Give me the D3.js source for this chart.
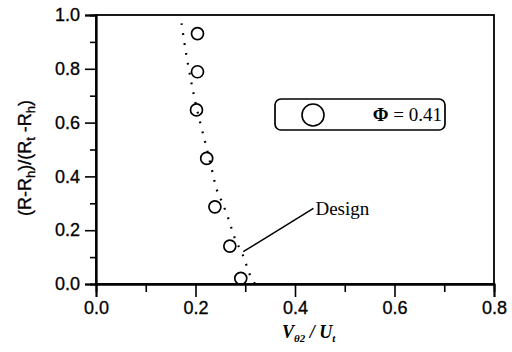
<!DOCTYPE html>
<html><head><meta charset="utf-8">
<script src="https://cdn.jsdelivr.net/npm/d3@7"></script>
<style>body{margin:0;background:#fff}svg{display:block}</style>
</head><body>
<script>
// Measured data (V_theta2/U_t, normalized radius)
const measX = [0.204, 0.204, 0.202, 0.2225, 0.239, 0.269, 0.291];
const measY = [0.931, 0.789, 0.647, 0.467, 0.287, 0.141, 0.021];
// Design curve
const designX = [0.172, 0.181, 0.192, 0.204, 0.220, 0.233, 0.243, 0.253, 0.266, 0.279, 0.295, 0.311, 0.320];
const designY = [0.969, 0.858, 0.746, 0.641, 0.523, 0.424, 0.349, 0.306, 0.244, 0.170, 0.108, 0.027, 0.0];
// Tick values
const xTicks = [0.0, 0.2, 0.4, 0.6, 0.8];
const xMinor = [0.1, 0.3, 0.5, 0.7];
const yTicks = [0.0, 0.2, 0.4, 0.6, 0.8, 1.0];
const yMinor = [0.1, 0.3, 0.5, 0.7, 0.9];
// Annotation
const annoLineX = [0.296, 0.437];
const annoLineY = [0.120, 0.281];
const annoText = "Design";
const legendLabel = "\u03A6 = 0.41";

const W = 512, H = 352;
const svg = d3.select("body").append("svg").attr("width", W).attr("height", H);
const x = d3.scaleLinear().domain([0, 0.8]).range([96, 494]);
const y = d3.scaleLinear().domain([0, 1]).range([284, 15]);
const sans = "'Liberation Sans', Arial, sans-serif";
const serif = "'Liberation Serif', 'Times New Roman', serif";

// frame
svg.append("rect").attr("x", x(0)).attr("y", y(1)).attr("width", x(0.8) - x(0)).attr("height", y(0) - y(1))
  .attr("fill", "none").attr("stroke", "#000").attr("stroke-width", 1.8);

// x axis
svg.append("g").attr("transform", `translate(0,${y(0)})`)
  .call(d3.axisBottom(x).tickValues(xTicks).tickSize(13).tickPadding(4).tickFormat(d3.format(".1f")));
svg.append("g").attr("transform", `translate(0,${y(0)})`)
  .call(d3.axisBottom(x).tickValues(xMinor).tickSize(8).tickFormat(""));
// y axis
svg.append("g").attr("transform", `translate(${x(0)},0)`)
  .call(d3.axisLeft(y).tickValues(yTicks).tickSize(11).tickPadding(5).tickFormat(d3.format(".1f")));
svg.append("g").attr("transform", `translate(${x(0)},0)`)
  .call(d3.axisLeft(y).tickValues(yMinor).tickSize(6).tickFormat(""));
svg.selectAll(".domain").attr("stroke", "#000").attr("stroke-width", 1.8);
svg.selectAll(".tick line").attr("stroke", "#000").attr("stroke-width", 1.6);
svg.selectAll(".tick text").attr("font-family", sans).attr("font-size", 18).attr("fill", "#000")
  .attr("stroke", "#000").attr("stroke-width", 0.3);

// design dotted curve
const dpts = designX.map((d, i) => [d, designY[i]]);
svg.append("path").datum(dpts)
  .attr("d", d3.line().x(d => x(d[0])).y(d => y(d[1])).curve(d3.curveCatmullRom))
  .attr("fill", "none").attr("stroke", "#000").attr("stroke-width", 2.2)
  .attr("stroke-dasharray", "1.8,8.2");

// measured circles
svg.selectAll("circle.m").data(measX.map((d, i) => [d, measY[i]])).enter().append("circle")
  .attr("cx", d => x(d[0])).attr("cy", d => y(d[1])).attr("r", 6)
  .attr("fill", "none").attr("stroke", "#000").attr("stroke-width", 1.7);

// annotation
svg.append("line").attr("x1", x(annoLineX[0])).attr("y1", y(annoLineY[0]))
  .attr("x2", x(annoLineX[1])).attr("y2", y(annoLineY[1]))
  .attr("stroke", "#000").attr("stroke-width", 1.5);
svg.append("text").attr("x", x(annoLineX[1]) + 2).attr("y", 215)
  .attr("font-family", serif).attr("font-size", 19).text(annoText);

// legend
const lg = svg.append("g");
lg.append("rect").attr("x", 275).attr("y", 99).attr("width", 170).attr("height", 31).attr("rx", 6)
  .attr("fill", "#fff").attr("stroke", "#000").attr("stroke-width", 1.7);
lg.append("circle").attr("cx", 313).attr("cy", 115).attr("r", 11)
  .attr("fill", "none").attr("stroke", "#000").attr("stroke-width", 1.6);
const lt = lg.append("text").attr("x", 442).attr("y", 121).attr("text-anchor", "end")
  .attr("font-family", serif).attr("font-size", 19);
lt.append("tspan").attr("font-weight", "bold").text(legendLabel.slice(0, 1));
lt.append("tspan").text(legendLabel.slice(1));

// y title
const yt = svg.append("text").attr("transform", "translate(31,158) rotate(-90)")
  .attr("text-anchor", "middle").attr("font-family", sans).attr("font-size", 18)
  .attr("stroke", "#000").attr("stroke-width", 0.3);
yt.append("tspan").text("(R-R");
yt.append("tspan").attr("font-size", 13).attr("dy", 4).text("h");
yt.append("tspan").attr("dy", -4).text(")/(R");
yt.append("tspan").attr("font-size", 13).attr("dy", 4).text("t");
yt.append("tspan").attr("dy", -4).text(" -R");
yt.append("tspan").attr("font-size", 13).attr("dy", 4).text("h");
yt.append("tspan").attr("dy", -4).text(")");

// x title
const xt = svg.append("text").attr("x", 282).attr("y", 338)
  .attr("font-family", serif).attr("font-size", 18).attr("font-style", "italic").attr("font-weight", "bold");
xt.append("tspan").text("V");
xt.append("tspan").attr("font-size", 11).attr("dy", 4).text("\u03B82");
xt.append("tspan").attr("dy", -4).text(" / U");
xt.append("tspan").attr("font-size", 11).attr("dy", 4).text("t");
</script>
</body></html>
